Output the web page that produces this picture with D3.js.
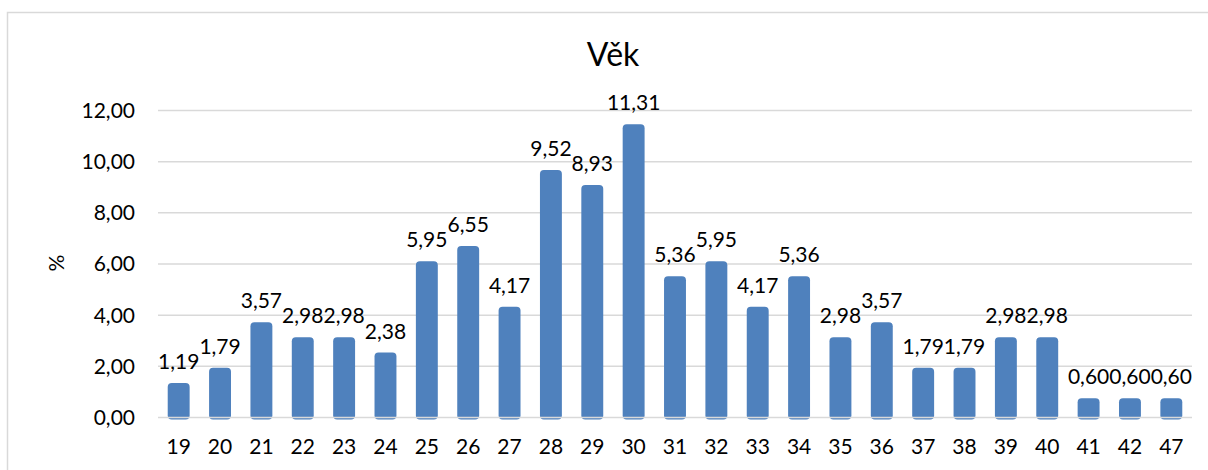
<!DOCTYPE html>
<html><head><meta charset="utf-8">
<script src="https://cdn.jsdelivr.net/npm/d3@7"></script>
<style>
html,body{margin:0;padding:0;background:#fff;}
svg{display:block;font-family:Lato,"Open Sans",sans-serif;}
</style></head>
<body>
<svg id="c" width="1208" height="470"></svg>
<script>
const categories = ["19","20","21","22","23","24","25","26","27","28","29","30","31","32","33","34","35","36","37","38","39","40","41","42","47"];
const values = [1.19,1.79,3.57,2.98,2.98,2.38,5.95,6.55,4.17,9.52,8.93,11.31,5.36,5.95,4.17,5.36,2.98,3.57,1.79,1.79,2.98,2.98,0.60,0.60,0.60];
const yTicks = [0,2,4,6,8,10,12];
const title = "Věk";
const yLabel = "%";

(function(){
const svg = d3.select("#c");
const fmt = v => v.toFixed(2).replace(".", ",");
const fs = 21;

// chart border
svg.append("path").attr("d","M7.5,470 L7.5,12.5 L1208,12.5")
  .attr("fill","none").attr("stroke","#d9d9d9").attr("stroke-width",1.5);

const pLeft = 158, pRight = 1192, pTop = 110.5, pBottom = 417.5;
const x = d3.scaleBand().domain(categories).range([pLeft,pRight]).paddingInner(0.47).paddingOuter(0.235);
const y = d3.scaleLinear().domain([0,12]).range([pBottom,pTop]);

// gridlines
svg.append("g").selectAll("line").data(yTicks.filter(t=>t>0)).enter().append("line")
  .attr("x1",pLeft).attr("x2",pRight).attr("y1",d=>y(d)).attr("y2",d=>y(d))
  .attr("stroke","#d9d9d9").attr("stroke-width",1.5);

// y tick labels
svg.append("g").selectAll("text").data(yTicks).enter().append("text")
  .attr("x",135).attr("y",d=>y(d)).attr("dy","0.35em").attr("text-anchor","end")
  .attr("font-size",fs).attr("fill","#000").text(fmt);

// bars
svg.append("g").selectAll("rect").data(values).enter().append("rect")
  .attr("x",(d,i)=>x(categories[i]))
  .attr("width",x.bandwidth())
  .attr("y",d=>y(d)-4)
  .attr("height",d=>y(0)-y(d)+6)
  .attr("rx",4).attr("ry",4)
  .attr("fill","#4f81bd");

// zero axis line on top
svg.append("line").attr("x1",pLeft).attr("x2",pRight).attr("y1",y(0)).attr("y2",y(0))
  .attr("stroke","#d9d9d9").attr("stroke-width",1.5);

// data labels
svg.append("g").selectAll("text").data(values).enter().append("text")
  .attr("x",(d,i)=>x(categories[i])+x.bandwidth()/2)
  .attr("y",d=>y(d)-18)
  .attr("text-anchor","middle").attr("font-size",fs).attr("fill","#000")
  .text(fmt);

// x labels
svg.append("g").selectAll("text").data(categories).enter().append("text")
  .attr("x",d=>x(d)+x.bandwidth()/2).attr("y",454)
  .attr("text-anchor","middle").attr("font-size",fs).attr("fill","#000").text(d=>d);

// title
svg.append("text").attr("x",613).attr("y",66).attr("text-anchor","middle")
  .attr("font-size",32).attr("fill","#000").text(title);

// y label
svg.append("text").attr("transform","translate(64,263) rotate(-90)")
  .attr("text-anchor","middle").attr("font-size",fs).attr("fill","#000").text(yLabel);
})();
</script>
</body></html>
